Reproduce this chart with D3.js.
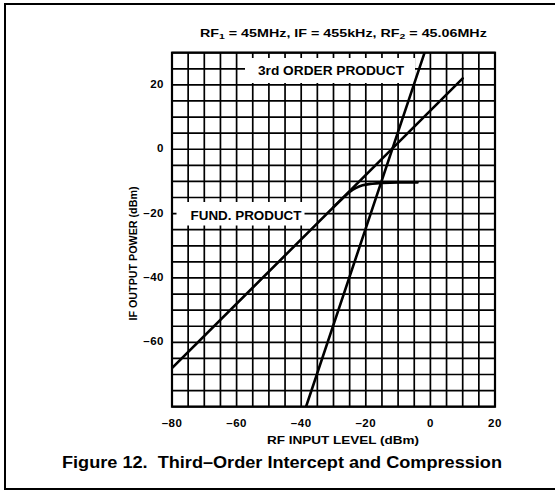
<!DOCTYPE html>
<html>
<head>
<meta charset="utf-8">
<script src="https://cdn.jsdelivr.net/npm/d3@7"></script>
<style>
  html, body { margin: 0; padding: 0; background: #fff; }
  svg { display: block; }
  text { font-family: "Liberation Sans", Arial, Helvetica, sans-serif; font-weight: bold; fill: #000; }
</style>
</head>
<body>
<svg id="chart" width="555" height="492"></svg>
<script>
// ---- data ----
const xTicks = [-80, -60, -40, -20, 0, 20];
const yTicks = [20, 0, -20, -40, -60];
const xDomain = [-80, 20];
const yDomain = [-80, 30];
const gridStep = 5;

// fundamental product, linear (extrapolated) response
const fundInput  = [-80, 10];
const fundOutput = [-68, 22];

// fundamental product, compressed branch
const compInput  = [-30, -27, -25, -23, -21, -18, -15, -10, -4];
const compOutput = [-18, -15.1, -13.3, -12.0, -11.2, -10.7, -10.45, -10.3, -10.3];

// third-order product
const thirdInput  = [-38.5, -1.8];
const thirdOutput = [-80, 30];

const titleText = ["RF", "1", " = 45MHz, IF = 455kHz, RF", "2", " = 45.06MHz"];
const xTitle = "RF INPUT LEVEL (dBm)";
const yTitle = "IF OUTPUT POWER (dBm)";
const caption = "Figure 12.\u00a0\u00a0Third\u2013Order Intercept and Compression";
const label3rd = "3rd ORDER PRODUCT";
const labelFund = "FUND. PRODUCT";

// ---- layout ----
const svg = d3.select("#chart");
const L = 172, R = 495, T = 52.7, B = 406.7;
const x = d3.scaleLinear().domain(xDomain).range([L, R]);
const y = d3.scaleLinear().domain(yDomain).range([B, T]);

svg.append("rect").attr("width", 555).attr("height", 492).attr("fill", "#fff");

// outer frame (right side cropped off in the reference)
svg.append("path")
  .attr("d", "M560,4 L5,4 L5,489 L560,489")
  .attr("fill", "none").attr("stroke", "#000").attr("stroke-width", 2);

// grid
const gx = d3.range(xDomain[0], xDomain[1] + 0.001, gridStep);
const gy = d3.range(yDomain[0], yDomain[1] + 0.001, gridStep);
const grid = svg.append("g").attr("stroke", "#000").attr("stroke-width", 1.7);
grid.selectAll("line.v").data(gx).join("line")
  .attr("x1", d => x(d)).attr("x2", d => x(d)).attr("y1", T).attr("y2", B);
grid.selectAll("line.h").data(gy).join("line")
  .attr("y1", d => y(d)).attr("y2", d => y(d)).attr("x1", L).attr("x2", R);

// label boxes (white, hiding the grid behind the labels)
function labelBox(txt, cx, cy, size, width, padL, padR, boxT, boxB) {
  svg.append("rect")
    .attr("x", cx - width / 2 - padL).attr("y", boxT)
    .attr("width", width + padL + padR).attr("height", boxB - boxT)
    .attr("fill", "#fff");
  return () => svg.append("text")
    .attr("x", cx).attr("y", cy + size * 0.36)
    .attr("text-anchor", "middle")
    .attr("font-size", size)
    .attr("textLength", width).attr("lengthAdjust", "spacingAndGlyphs")
    .text(txt);
}
const draw3rd = labelBox(label3rd, 331, 70, 13, 146, 13, 11, 58, 83);
const drawFund = labelBox(labelFund, 246, 215, 13, 111, 14, 3, 202, 225.5);

// curves
svg.append("clipPath").attr("id", "plot")
  .append("rect").attr("x", L).attr("y", T).attr("width", R - L).attr("height", B - T);
const curves = svg.append("g").attr("clip-path", "url(#plot)")
  .attr("fill", "none").attr("stroke", "#000").attr("stroke-width", 2.6)
  .attr("stroke-linecap", "round");
const lineGen = d3.line().x(d => x(d[0])).y(d => y(d[1]));
curves.append("path").attr("d", lineGen(d3.zip(fundInput, fundOutput)));
curves.append("path").attr("d", lineGen.curve(d3.curveMonotoneX)(d3.zip(compInput, compOutput)));
curves.append("path").attr("d", d3.line().x(d => x(d[0])).y(d => y(d[1]))(d3.zip(thirdInput, thirdOutput)));

draw3rd();
drawFund();

// plot border
svg.append("rect").attr("x", L).attr("y", T).attr("width", R - L).attr("height", B - T)
  .attr("fill", "none").attr("stroke", "#000").attr("stroke-width", 2.2);

// tick labels
const fmt = v => (v < 0 ? "\u2013" + Math.abs(v) : String(v));
svg.append("g").selectAll("text").data(xTicks).join("text")
  .attr("x", d => x(d)).attr("y", 427)
  .attr("text-anchor", "middle").attr("font-size", 11.5)
  .attr("letter-spacing", 0.5)
  .text(fmt);
svg.append("g").selectAll("text").data(yTicks).join("text")
  .attr("x", 164).attr("y", d => y(d) + 3)
  .attr("text-anchor", "end").attr("font-size", 11.5)
  .attr("letter-spacing", 0.5)
  .text(fmt);

// axis titles
svg.append("text").attr("x", 343).attr("y", 444)
  .attr("text-anchor", "middle").attr("font-size", 11.5)
  .attr("textLength", 152).attr("lengthAdjust", "spacingAndGlyphs")
  .text(xTitle);
svg.append("text")
  .attr("transform", "translate(137,253.5) rotate(-90)")
  .attr("text-anchor", "middle").attr("font-size", 10.5)
  .attr("textLength", 134).attr("lengthAdjust", "spacingAndGlyphs")
  .text(yTitle);

// title with subscripts
const title = svg.append("text").attr("x", 200).attr("y", 37)
  .attr("font-size", 11);
titleText.forEach((t, i) => {
  const ts = title.append("tspan").text(t);
  if (i === 1 || i === 3) ts.attr("font-size", 8).attr("dy", 2.5);
  else if (i > 1) ts.attr("dy", -2.5);
});
// stretch title to its reference width
const tw = title.node().getComputedTextLength();
title.attr("transform", `translate(200,0) scale(${287 / tw},1) translate(-200,0)`);

// caption
svg.append("text").attr("x", 282).attr("y", 468)
  .attr("text-anchor", "middle").attr("font-size", 16)
  .attr("textLength", 440).attr("lengthAdjust", "spacingAndGlyphs")
  .text(caption);
</script>
</body>
</html>
